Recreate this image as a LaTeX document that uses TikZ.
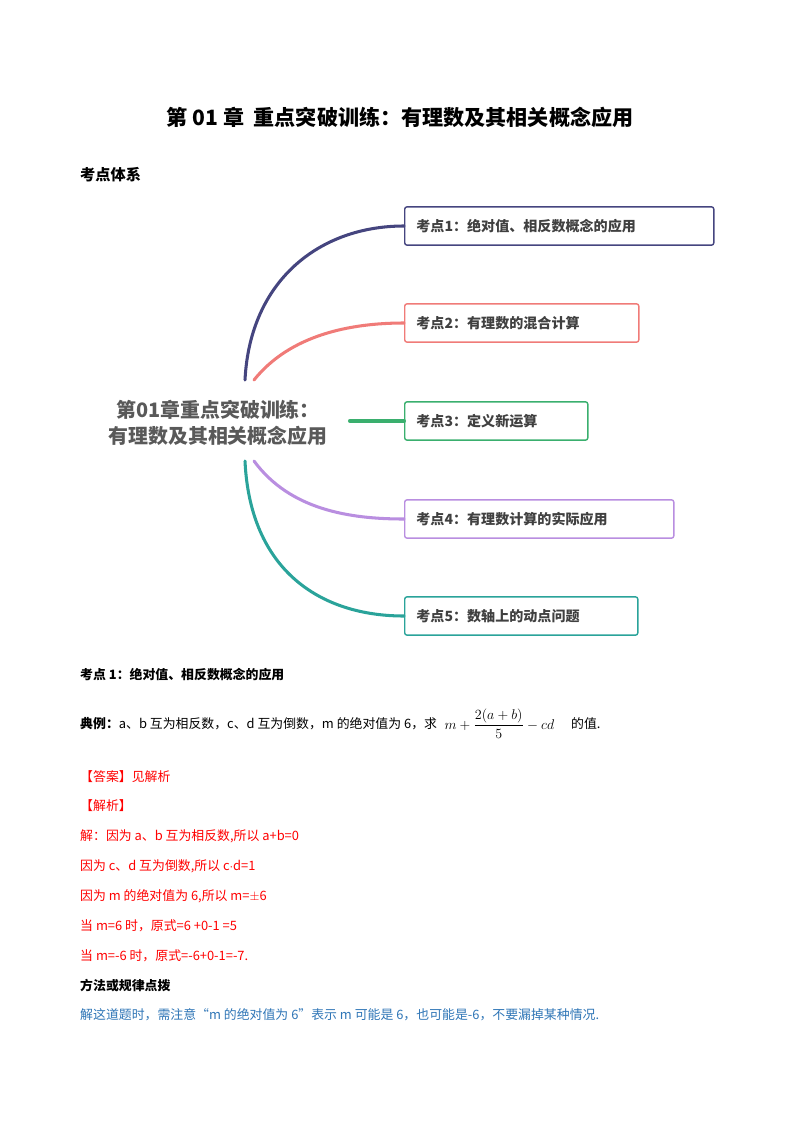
\documentclass[tikz,border=0pt]{standalone}
\usepackage{fontspec}
\setmainfont{Liberation Serif}
\newfontfamily\cjk{Noto Sans CJK SC}
\newcommand\cjkb{\cjk\bfseries}
\usetikzlibrary{positioning}
\definecolor{cblue}{HTML}{45457F}
\definecolor{cred}{HTML}{F07B78}
\definecolor{cgreen}{HTML}{3AAF6E}
\definecolor{cpurple}{HTML}{B98EE0}
\definecolor{cteal}{HTML}{2AA39A}
\definecolor{ansred}{HTML}{FF0000}
\definecolor{tipblue}{HTML}{2E75B6}
\begin{document}
\begin{tikzpicture}[x=0.03cm,y=-0.03cm,
    topic/.style={draw=#1,line width=1.2pt,rounded corners=2pt,minimum height=1.15cm,anchor=west,inner xsep=10pt,align=left,font=\cjkb\fontsize{12}{14}\selectfont,text=black!75},
    branch/.style={draw=#1,line width=2.6pt,line cap=round},
    line/.style={anchor=west,inner sep=0pt,font=\cjk\fontsize{11}{13}\selectfont}
    ]
    \useasboundingbox (0,0) rectangle (800,1132);
    % title
    \node (title) at (400,117) [font=\cjkb\fontsize{18}{20}\selectfont] {第 01 章\ \ 重点突破训练：有理数及其相关概念应用};
    \node (system) at (80,175) [line,font=\cjkb\fontsize{13}{15}\selectfont] {考点体系};
    % mind map
    \node (center) at (218,423) [align=center,text=black!65,font=\cjkb\fontsize{17}{22}\selectfont] {第01章重点突破训练：\\有理数及其相关概念应用};
    \node (k1) at (404,226) [topic=cblue,text width=8.57cm] {考点1：绝对值、相反数概念的应用};
    \node (k2) at (404,323) [topic=cred,text width=6.32cm] {考点2：有理数的混合计算};
    \node (k3) at (404,421) [topic=cgreen,text width=4.79cm] {考点3：定义新运算};
    \node (k4) at (404,519) [topic=cpurple,text width=7.37cm] {考点4：有理数计算的实际应用};
    \node (k5) at (404,616) [topic=cteal,text width=6.29cm] {考点5：数轴上的动点问题};
    \coordinate (c1) at (245,380);
    \coordinate (c2) at (254,380);
    \coordinate (c3) at (350,421);
    \coordinate (c4) at (254,461);
    \coordinate (c5) at (245,461);
    \draw [branch=cblue] (c1) .. controls (250,280) and (320,226) .. (k1.west);
    \draw [branch=cred] (c2) .. controls (290,335) and (350,323) .. (k2.west);
    \draw [branch=cgreen,line width=3.5pt] (c3) -- (k3.west);
    \draw [branch=cpurple] (c4) .. controls (290,510) and (350,519) .. (k4.west);
    \draw [branch=cteal] (c5) .. controls (250,570) and (320,616) .. (k5.west);
    % example text
    \node (h1) at (80,675) [line,font=\cjkb\fontsize{11}{13}\selectfont] {考点 1：绝对值、相反数概念的应用};
    \node (ex) at (80,724) [line] {{\cjkb 典例：}a、b 互为相反数，c、d 互为倒数，m 的绝对值为 6，求};
    \node (frac) [right=6pt of ex,inner sep=0pt] {\fontsize{12}{14}\selectfont$\displaystyle m+\frac{2(a+b)}{5}-cd$};
    \node (val) [right=14pt of frac.east|-ex.east,anchor=west,line] {的值.};
    \begin{scope}[every node/.style={line,text=ansred}]
      \node (ans) at (80,777) {【答案】见解析};
      \node (ana) at (80,806) {【解析】};
      \node (s1) at (80,836) {解：因为 a、b 互为相反数,所以 a+b=0};
      \node (s2) at (80,866) {因为 c、d 互为倒数,所以 c$\cdot$d=1};
      \node (s3) at (80,896) {因为 m 的绝对值为 6,所以 m=$\pm$6};
      \node (s4) at (80,926) {当 m=6 时，原式=6 +0-1 =5};
      \node (s5) at (80,956) {当 m=-6 时，原式=-6+0-1=-7.};
    \end{scope}
    \node (tip) at (80,986) [line,font=\cjkb\fontsize{11}{13}\selectfont] {方法或规律点拨};
    \node (tiptext) at (80,1015) [line,text=tipblue] {解这道题时，需注意“m 的绝对值为 6”表示 m 可能是 6，也可能是-6，不要漏掉某种情况.};
\end{tikzpicture}
\end{document}
